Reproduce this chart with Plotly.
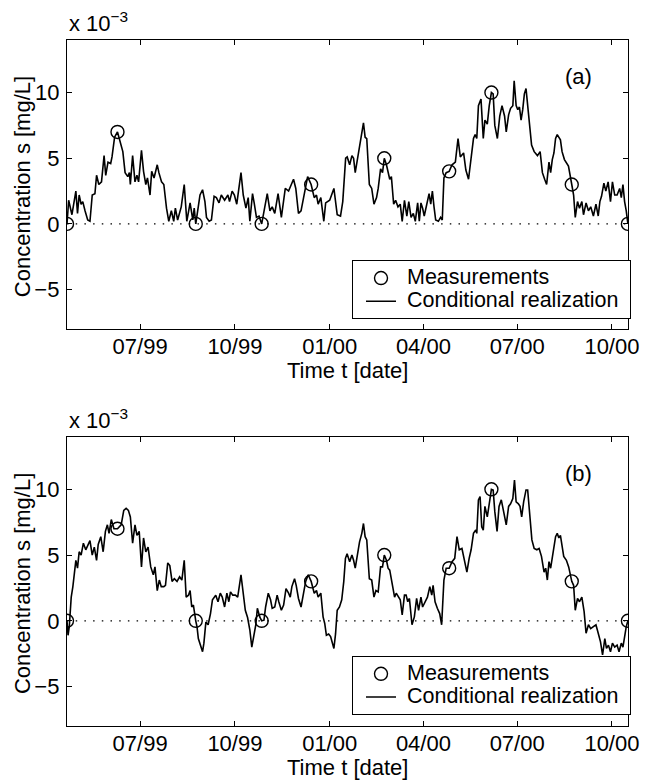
import plotly.graph_objects as go
import pandas as pd

# ---------------- data (concentration in units of 1e-3 mg/L) ----------------
start_date = "1999-04-21"
end_day = 544.6

meas_days = [0, 49, 125, 189, 237, 308, 371, 412, 490, 544.5]
meas_vals = [0, 7, 0, 0, 3, 5, 4, 10, 3, 0]

days_a = [0, 1.6, 4.8, 8.6, 10.2, 11.8, 13.7, 15.3, 17.5, 20.1, 22.3, 24.5, 27.1, 28.7, 30.9,
          33.5, 36.0, 37.6, 39.8, 42.4, 43.7, 46.2, 49, 51.9, 54.2, 56.4, 59.0, 60.6, 61.5,
          63.7, 66.0, 67.9, 69.5, 72.3, 74.3, 76.5, 78.1, 80.6, 82.2, 84.5, 87.6, 89.2, 91.8,
          94.0, 96.6, 98.8, 101.3, 103.6, 105.2, 107.4, 109.3, 110.9, 113.8, 116.3, 119.5,
          122.1, 123.5, 125, 129.1, 131.6, 133.9, 135.4, 138.0, 140.2, 142.8, 145.0, 147.6,
          149.8, 153.0, 156.2, 157.8, 160.3, 162.5, 164.8, 168.9, 171.1, 173.7, 175.9, 177.5,
          180.1, 181.7, 183.9, 186.4, 189, 194.4, 197.0, 199.2, 201.7, 204.9, 208.1, 211.9,
          215.1, 219.9, 222.1, 224.7, 227.2, 233.6, 235.8, 237, 240.0, 242.2, 243.8, 246.4,
          249.3, 251.1, 255.0, 259.1, 262.3, 265.5, 267.7, 269.2, 270.5, 272.0, 274.4, 276.6,
          278.2, 279.8, 282.0, 284.0, 286.2, 287.8, 289.4, 291.0, 293.5, 295.8, 298.0, 300.5,
          302.1, 304.4, 306.3, 308, 310.1, 311.7, 313.3, 314.9, 317.1, 319.0, 321.3, 323.5,
          325.4, 327.6, 329.9, 331.8, 334.0, 336.2, 338.1, 340.4, 342.0, 343.6, 345.2, 346.8,
          349.0, 351.5, 353.1, 354.7, 356.3, 357.9, 360.5, 362.7, 364.3, 365.9, 368.1, 371,
          373.8, 377.0, 379.6, 381.8, 385.0, 387.2, 389.8, 392.0, 394.6, 396.2, 397.8, 399.4,
          401.9, 404.1, 405.7, 408.0, 409.9, 412, 413.7, 415.3, 417.8, 420.1, 422.3, 424.8,
          426.4, 428.7, 430.6, 432.8, 434.1, 436.0, 437.6, 439.2, 440.8, 442.4, 444.0, 445.6,
          448.8, 451.0, 453.5, 456.7, 459.3, 461.5, 463.7, 465.6, 467.9, 469.5, 471.1, 472.7,
          474.3, 475.9, 479.0, 480.6, 482.9, 485.4, 486.8, 490, 491.8, 493.4, 495.6, 497.5,
          499.8, 501.4, 503.9, 506.2, 508.4, 511.0, 513.5, 515.7, 517.3, 518.9, 521.2, 523.1,
          525.3, 527.6, 529.5, 531.7, 534.0, 536.5, 538.1, 539.7, 541.3, 542.9, 544.5]
vals_a = [0, 1.8, 0.7, 2.5, 0.8, 2.2, 1.5, 1.7, 1.0, 0.3, 0.2, 2.2, 2.3, 3.7, 3.0,
          3.2, 5.2, 3.7, 4.7, 4.6, 5.1, 6.6, 7.0, 6.1, 5.5, 3.9, 3.6, 3.9, 3.0,
          5.2, 3.2, 3.7, 3.2, 5.6, 4.0, 3.0, 3.5, 2.2, 4.0, 3.5, 4.5, 3.9, 3.2,
          3.0, 1.2, 0.2, 1.0, 0.2, 1.2, 0.3, 0.8, 1.3, 3.0, 0.2, 1.6,
          0.3, 1.2, 0, 2.2, 2.6, 1.7, 0.5, 0.2, 0.3, 2.1, 2.0, 1.6,
          2.2, 1.8, 2.2, 1.7, 2.5, 2.2, 1.5, 3.9, 2.2, 1.2, 2.0, 0.2,
          2.3, 1.6, 0.5, 0.6, 0, 2.3, 1.0, 1.3, 0.8, 2.3, 0.5, 2.7,
          2.5, 3.4, 2.7, 0.8, 1.0, 3.6, 3.2, 3.0, 2.0, 2.2, 1.5, 2.0,
          0.2, 1.6, 1.8, 2.7, 0.7, 0.6, 1.7, 3.2, 5.0, 5.1, 4.5, 5.2,
          5.0, 3.9, 4.9, 6.0, 6.8, 7.7, 6.6, 6.5, 3.0, 2.7, 1.5, 2.0,
          2.7, 4.2, 3.9, 5.0, 4.5, 3.9, 3.4, 3.6, 1.5, 1.8, 1.3, 1.5,
          0.2, 1.8, 0.6, 1.7, 0.5, 0.8, 0.2, 1.6, 0.2, 1.6, 1.2, 0.6,
          1.3, 2.3, 1.5, 2.5, 1.3, 0.3, 0.2, 0.5, 0.3, 3.5, 3.9, 4.0,
          4.5, 4.7, 6.5, 5.1, 5.4, 4.1, 3.4, 4.7, 6.5, 6.8, 6.5, 9.0,
          9.5, 6.5, 7.9, 7.6, 9.0, 10.0, 9.9, 7.5, 6.5, 8.2, 9.0, 8.2,
          7.0, 8.3, 8.8, 9.0, 10.9, 9.0, 8.7, 8.9, 7.9, 8.7, 9.9, 10.3,
          7.9, 6.0, 5.5, 5.2, 5.5, 3.9, 3.4, 3.0, 4.7, 3.9, 4.9, 5.4,
          6.5, 6.8, 6.4, 5.5, 4.9, 4.6, 4.4, 3.0, 2.2, 0.5, 1.7, 1.2,
          1.7, 0.7, 1.6, 1.0, 1.3, 0.6, 1.5, 0.6, 1.7, 2.1, 3.1, 2.5,
          3.2, 1.7, 3.2, 2.2, 2.2, 2.7, 2.0, 3.0, 1.7, 1.0, 0]

days_b = [0, 1.0, 2.2, 4.1, 5.7, 7.3, 8.6, 10.2, 11.8, 13.7, 15.9, 18.2, 20.1, 22.3, 24.5,
          26.5, 28.7, 30.3, 32.8, 35.1, 37.3, 39.2, 40.8, 43.0, 45.6, 49, 52.6, 55.1, 57.4,
          59.6, 61.5, 63.7, 66.0, 67.9, 70.1, 72.3, 74.3, 76.5, 78.7, 81.3, 83.8, 85.4, 87.6,
          89.6, 91.5, 94.0, 95.6, 97.8, 99.8, 102.0, 104.2, 106.8, 109.3, 111.5, 113.8, 115.7,
          117.9, 119.5, 121.1, 122.7, 125, 126.2, 127.5, 129.1, 131.6, 132.9, 134.8, 137.0,
          139.3, 141.2, 142.8, 144.4, 146.6, 148.8, 150.7, 153.0, 155.2, 157.1, 158.7, 160.9,
          163.5, 165.7, 168.9, 171.1, 173.1, 175.3, 177.5, 179.4, 181.0, 183.3, 184.8, 187.1,
          189, 191.2, 192.8, 195.4, 197.6, 199.2, 201.7, 204.0, 205.6, 208.1, 210.3, 212.6,
          215.1, 216.7, 218.3, 220.9, 222.5, 224.7, 227.2, 229.5, 231.7, 234.2, 237, 240.0,
          242.2, 243.8, 246.4, 248.6, 250.2, 251.8, 254.0, 255.9, 258.1, 259.1, 260.7, 262.3,
          264.5, 266.7, 268.7, 270.3, 271.9, 274.4, 276.6, 278.2, 279.8, 282.0, 284.0, 286.2,
          287.8, 289.4, 291.0, 293.5, 295.8, 298.0, 299.9, 302.1, 304.4, 306.3, 308, 310.1,
          311.7, 313.3, 315.8, 318.0, 319.6, 322.2, 323.5, 325.4, 327.6, 329.2, 330.8, 332.4,
          334.9, 337.2, 339.4, 341.3, 343.6, 345.2, 347.7, 349.9, 352.2, 354.1, 355.4, 357.3,
          359.5, 361.8, 363.7, 365.9, 368.1, 371, 373.8, 376.4, 378.6, 380.8, 383.4, 385.9,
          388.2, 390.4, 392.3, 394.6, 396.8, 397.8, 399.4, 401.0, 402.6, 404.1, 405.7, 408.0,
          409.9, 412, 413.7, 415.3, 417.5, 419.4, 421.6, 423.9, 426.4, 428.7, 430.6, 432.8,
          434.4, 436.0, 438.2, 439.8, 441.4, 443.3, 445.6, 447.2, 449.4, 451.3, 453.5, 456.1,
          458.3, 460.6, 463.1, 464.7, 466.3, 467.9, 469.5, 471.1, 472.7, 474.3, 475.9, 477.5,
          479.0, 480.6, 482.2, 484.8, 487.0, 490, 491.8, 493.4, 495.6, 497.5, 499.8, 502.0,
          503.9, 506.2, 508.4, 511.0, 513.5, 515.7, 517.9, 519.9, 522.1, 523.7, 525.6, 527.6,
          529.5, 531.7, 534.0, 535.9, 538.1, 539.7, 541.3, 542.9, 544.5]
vals_b = [0, -1.1, -0.45, 1.8, 2.6, 3.9, 4.6, 4.0, 5.25, 5.0, 5.9, 5.4, 5.8, 6.1, 5.0,
          5.6, 4.6, 5.8, 6.4, 5.25, 6.8, 7.3, 6.65, 7.7, 7.0, 7.0, 7.3, 8.4, 8.55,
          8.4, 7.9, 5.9, 7.3, 6.5, 6.8, 4.1, 6.3, 5.25, 5.6, 4.1, 3.5, 4.1, 2.3,
          3.1, 2.6, 2.6, 2.7, 4.4, 4.2, 3.0, 3.2, 3.0, 3.35, 3.1, 4.6, 1.8,
          1.95, 2.3, 1.05, 1.2, 0, -0.45, -1.35, -1.7, -2.35, -1.7, -0.1, -0.3,
          0.55, 1.6, 1.8, 1.95, 1.45, 2.1, 1.8, 1.05, 2.1, 1.45, 2.2, 1.95,
          1.95, 1.8, 3.5, 2.1, 0.8, 0.25, -0.7, -2.0, -1.35, -0.3, 0.95, 0.3,
          0, 0.05, 1.05, 2.1, 1.6, 0.95, 1.05, 1.95, 1.45, 0.8, 1.2, 2.45,
          2.1, 1.8, 2.6, 3.2, 2.7, 1.7, 1.05, 1.95, 3.0, 3.5, 3.0, 2.1,
          2.3, 1.8, 2.1, 0.3, -0.2, -1.1, -1.0, -1.2, -1.7, -2.1, -1.0, 0.8,
          1.05, 1.6, 3.0, 4.75, 5.1, 4.5, 5.0, 4.6, 4.0, 5.1, 6.0, 6.65,
          7.4, 6.4, 6.15, 3.2, 3.1, 1.8, 2.3, 2.2, 4.1, 4.1, 5.0, 4.6,
          4.0, 3.85, 2.7, 1.8, 2.1, 1.7, 1.6, 0.45, 1.95, 1.95, 1.45, 1.7,
          -0.3, 0.3, 1.7, 0.8, 1.8, 1.05, 1.45, 1.8, 2.6, 1.95, 2.7, 1.45,
          0.95, 0.55, -0.3, 3.1, 4.0, 4.0, 4.5, 4.75, 6.4, 5.4, 5.5, 4.6,
          3.7, 4.75, 5.4, 6.65, 6.9, 6.65, 9.2, 9.45, 7.15, 6.9, 8.7, 7.9,
          8.9, 10.0, 9.95, 8.3, 6.8, 8.7, 9.2, 8.4, 7.3, 8.7, 8.9, 9.3,
          10.7, 9.05, 8.9, 8.7, 7.9, 9.05, 9.95, 9.95, 7.9, 6.15, 5.5, 5.4,
          5.5, 4.9, 3.7, 4.0, 3.1, 4.5, 4.0, 4.9, 5.4, 6.4, 6.65, 6.3,
          6.5, 5.6, 4.9, 4.6, 4.1, 3.0, 2.7, 0.8, 1.7, 1.45, 1.8, 0.7,
          -0.95, -0.3, -0.6, -0.45, -0.3, -0.95, -1.6, -2.6, -1.35, -2.1, -1.85, -2.35,
          -1.7, -2.0, -1.85, -2.35, -1.7, -2.0, -1.2, -0.45, 0]

tick_dates = ["1999-07-01", "1999-10-01", "2000-01-01", "2000-04-01", "2000-07-01", "2000-10-01"]
tick_labels = ["07/99", "10/99", "01/00", "04/00", "07/00", "10/00"]
y_ticks = [-5, 0, 5, 10]
y_range = [-8, 14]
panel_labels = ["(a)", "(b)"]
legend_names = ["Measurements", "Conditional realization"]

# ---------------- figure ----------------
t0 = pd.Timestamp(start_date)


def to_dates(days):
    return [t0 + pd.Timedelta(days=d) for d in days]


FONT = "Liberation Sans, Arial, Helvetica, sans-serif"
LEG_TXT = '<span style="font-size:21.5px">\u00a0{}\u00a0</span>'
fig = go.Figure()

series = [(days_a, vals_a), (days_b, vals_b)]
for i, (dd, vv) in enumerate(series):
    ax = "" if i == 0 else "2"
    leg = "legend" if i == 0 else "legend2"
    fig.add_trace(go.Scatter(
        x=to_dates(meas_days), y=meas_vals, mode="markers",
        name=LEG_TXT.format(legend_names[0]),
        marker=dict(symbol="circle-open", size=13, color="black", line=dict(width=1.4, color="black")),
        xaxis="x" + ax, yaxis="y" + ax, legend=leg))
    fig.add_trace(go.Scatter(
        x=to_dates(dd), y=vv, mode="lines",
        name=LEG_TXT.format(legend_names[1]),
        line=dict(color="black", width=1.6),
        xaxis="x" + ax, yaxis="y" + ax, legend=leg))

x_range = [t0, t0 + pd.Timedelta(days=end_day)]

axis_common = dict(showline=True, linecolor="black", linewidth=1.3, mirror="ticks",
                   ticks="inside", ticklen=5, tickwidth=1.2, tickcolor="black",
                   showgrid=False, zeroline=False,
                   tickfont=dict(family=FONT, size=22, color="black"))

dom_top = [0.5787, 1.0]
dom_bot = [0.0, 0.4217]

leg_common = dict(xanchor="right", yanchor="bottom", bordercolor="black", borderwidth=1.2,
                  bgcolor="white", font=dict(family=FONT, size=15.5, color="black"),
                  tracegroupgap=0, indentation=8)

fig.update_layout(
    width=651, height=783,
    margin=dict(l=67, r=14, t=40, b=57),
    paper_bgcolor="white", plot_bgcolor="white",
    font=dict(family=FONT, size=22, color="black"),
    xaxis=dict(axis_common, domain=[0, 1], anchor="y", range=x_range,
               tickvals=tick_dates, ticktext=tick_labels, ticklabelstandoff=-3),
    yaxis=dict(axis_common, domain=dom_top, anchor="x", range=y_range,
               tickvals=y_ticks, ticklabelstandoff=2),
    xaxis2=dict(axis_common, domain=[0, 1], anchor="y2", range=x_range,
                tickvals=tick_dates, ticktext=tick_labels, ticklabelstandoff=-3),
    yaxis2=dict(axis_common, domain=dom_bot, anchor="x2", range=y_range,
                tickvals=y_ticks, ticklabelstandoff=2),
    legend=dict(leg_common, x=1.005, y=dom_top[0] + 0.0142),
    legend2=dict(leg_common, x=1.005, y=dom_bot[0] + 0.016),
    showlegend=True,
)

for i, ax in enumerate(["", "2"]):
    # dotted zero line
    fig.add_shape(type="line", xref="x" + ax + " domain", yref="y" + ax,
                  x0=0, x1=1, y0=0, y1=0,
                  line=dict(color="black", width=1.3, dash="1.5px,7.2px"), layer="below")
    # exponent label
    fig.add_annotation(xref="x" + ax + " domain", yref="y" + ax + " domain", x=0, y=1,
                       xanchor="left", yanchor="bottom", yshift=2, showarrow=False,
                       text="x 10<sup>\u22123</sup>", font=dict(family=FONT, size=22))
    # panel label
    fig.add_annotation(xref="x" + ax + " domain", yref="y" + ax + " domain", x=0.911, y=0.874,
                       xanchor="center", yanchor="middle", showarrow=False,
                       text=panel_labels[i], font=dict(family=FONT, size=22))
    # axis titles
    fig.add_annotation(xref="x" + ax + " domain", yref="y" + ax + " domain", x=0.5, y=-0.142,
                       xanchor="center", yanchor="middle", showarrow=False,
                       text="Time t [date]", font=dict(family=FONT, size=22))
    fig.add_annotation(xref="paper", yref="y" + ax + " domain", x=-0.079, y=0.493,
                       xanchor="center", yanchor="middle", showarrow=False, textangle=-90,
                       text="Concentration s [mg/L]", font=dict(family=FONT, size=22))

fig.write_html("out.html")
